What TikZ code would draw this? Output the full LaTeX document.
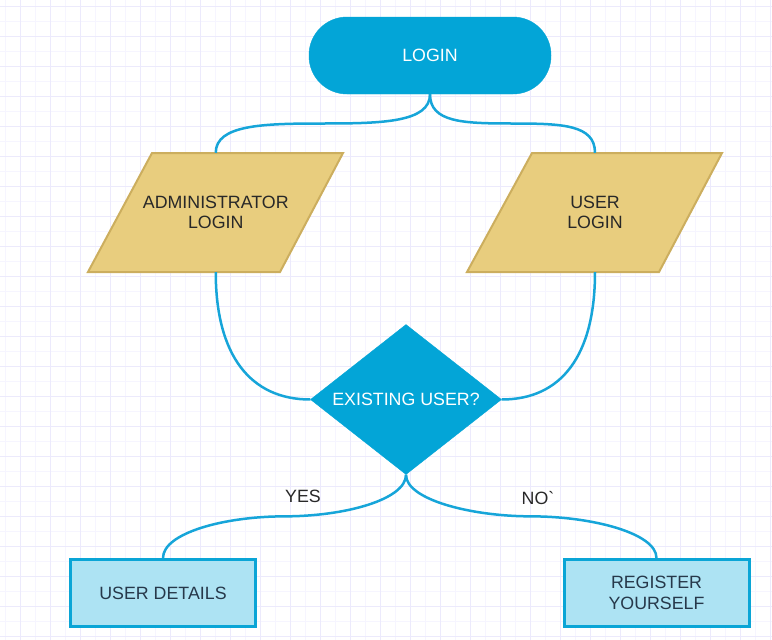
\documentclass[tikz,border=0pt]{standalone}
\usepackage{fontspec}
\setmainfont{Liberation Sans}[Ligatures=TeXOff]
\usetikzlibrary{shapes.geometric,calc}
\definecolor{gridminor}{RGB}{246,245,255}
\definecolor{gridmajor}{RGB}{236,234,252}
\definecolor{bluefill}{RGB}{3,165,215}
\definecolor{linkblue}{RGB}{22,165,217}
\definecolor{parafill}{RGB}{232,205,126}
\definecolor{paraline}{RGB}{204,174,94}
\definecolor{boxfill}{RGB}{173,227,243}
\definecolor{boxline}{RGB}{10,165,214}
\definecolor{darktext}{RGB}{40,40,40}
\definecolor{boxtext}{RGB}{38,56,74}
\begin{document}
\begin{tikzpicture}[x={(1pt,0pt)},y={(0pt,-1pt)},
  txt/.style={font=\fontsize{17.8}{20.5}\selectfont, align=center},
  term/.style={txt, rectangle, rounded corners=38pt, fill=bluefill, draw=bluefill, text=white, minimum width=242pt, minimum height=77pt, inner sep=0pt},
  io/.style={txt, rectangle, minimum width=191pt, minimum height=119pt, inner sep=0pt, text=darktext},
  iobody/.style={fill=parafill, draw=paraline, line width=2pt, line join=miter},
  decision/.style={txt, diamond, shape aspect=1.27, fill=bluefill, draw=bluefill, text=white, minimum width=191pt, minimum height=150pt, inner sep=0pt},
  procbox/.style={txt, rectangle, fill=boxfill, draw=boxline, line width=3pt, text=boxtext, minimum width=185pt, minimum height=67pt, inner sep=0pt},
  link/.style={draw=linkblue, line width=2.5pt},
  lbl/.style={txt, text=darktext, inner sep=0pt}
]
\useasboundingbox[fill=white] (0,0) rectangle (772,640);
% grid
\foreach \k in {0,...,25} {
  \draw[gridminor, line width=1pt] ({5+30*\k},0) -- ({5+30*\k},640);
}
\foreach \k in {0,...,21} {
  \draw[gridminor, line width=1pt] (0,{21.7+30*\k}) -- (772,{21.7+30*\k});
}
\foreach \k in {0,...,25} {
  \draw[gridmajor, line width=1pt] ({20+30*\k},0) -- ({20+30*\k},640);
}
\foreach \k in {0,...,21} {
  \draw[gridmajor, line width=1pt] (0,{6.7+30*\k}) -- (772,{6.7+30*\k});
}
% parallelogram bodies
\draw[iobody] (152,153) -- (343,153) -- (280,272) -- (88,272) -- cycle;
\draw[iobody] (532,153) -- (722,153) -- (659,272) -- (467,272) -- cycle;
% nodes
\node[term] (login) at (430,55.5) {LOGIN};
\node[io] (admin) at (215.75,212.5) {ADMINISTRATOR\\LOGIN};
\node[io] (user) at (595,212.5) {USER\\LOGIN};
\node[decision] (exist) at (406,399.5) {EXISTING USER?};
\node[procbox] (details) at (163,593) {USER DETAILS};
\node[procbox] (register) at (656.5,593) {REGISTER\\YOURSELF};
\node[lbl] (yes) at (303,496) {YES};
\node[lbl] (no) at (538,498) {NO`};
% connectors
\draw[link] (login.south) .. controls +(0,28) and +(60,0) .. ($(login.south)!0.5!(admin.north)$)
  .. controls +(-60,0) and +(0,-28) .. (admin.north);
\draw[link] (login.south) .. controls +(0,28) and +(-50,0) .. ($(login.south)!0.5!(user.north)$)
  .. controls +(50,0) and +(0,-28) .. (user.north);
\draw[link] (admin.south) .. controls +(0,83) and +(-60,0) .. (exist.west);
\draw[link] (user.south) .. controls +(0,83) and +(60,0) .. (exist.east);
\draw[link] (exist.south) .. controls +(0,25) and +(60,0) .. ($(exist.south)!0.5!(details.north)$)
  .. controls +(-60,0) and +(0,-25) .. (details.north);
\draw[link] (exist.south) .. controls +(0,25) and +(-60,0) .. ($(exist.south)!0.5!(register.north)$)
  .. controls +(60,0) and +(0,-25) .. (register.north);
\end{tikzpicture}
\end{document}
